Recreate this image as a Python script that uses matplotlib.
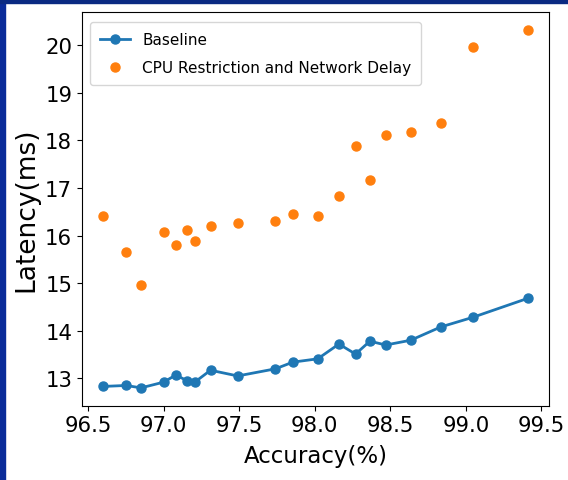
import matplotlib.pyplot as plt
from matplotlib.patches import Rectangle

# accuracy values (%) shared by both runs
accuracy = [96.6, 96.75, 96.85, 97.0, 97.08, 97.155, 97.21, 97.31, 97.49, 97.74,
            97.855, 98.02, 98.16, 98.27, 98.365, 98.47, 98.635, 98.835, 99.045, 99.41]

# latency (ms)
baseline = [12.83, 12.85, 12.80, 12.92, 13.07, 12.95, 12.93, 13.17, 13.05, 13.20,
            13.34, 13.41, 13.72, 13.51, 13.78, 13.70, 13.80, 14.08, 14.28, 14.68]
cpu_net = [16.42, 15.66, 14.97, 16.07, 15.79, 16.11, 15.88, 16.20, 16.26, 16.31,
           16.45, 16.42, 16.82, 17.89, 17.16, 18.11, 18.18, 18.37, 19.96, 20.31]

xticks = [96.5, 97.0, 97.5, 98.0, 98.5, 99.0, 99.5]


def plot_latency():
    fig = plt.figure(figsize=(5.68, 4.81), dpi=100)
    ax = fig.add_axes([0.1444, 0.1544, 0.8221, 0.8177])

    ax.plot(accuracy, baseline, '-o', color='#1f77b4', linewidth=2,
            markersize=6.5, label='Baseline')
    ax.plot(accuracy, cpu_net, 'o', color='#ff7f0e', markersize=6.5,
            label='CPU Restriction and Network Delay')

    ax.set_xlabel('Accuracy(%)', fontsize=16.5, labelpad=6)
    ax.set_ylabel('Latency(ms)', fontsize=19, labelpad=4)
    ax.tick_params(labelsize=15.3)
    ax.set_xticks(xticks)
    ax.legend(loc='upper left', fontsize=11, borderpad=0.65,
              labelspacing=0.85, bbox_to_anchor=(0.0, 0.995))

    # blue slide frame on the left and top edges
    fig.patches.append(Rectangle((0, 0), 0.009, 1, transform=fig.transFigure,
                                 color='#0a2c9a', zorder=0))
    fig.patches.append(Rectangle((0, 0.991), 1, 0.009, transform=fig.transFigure,
                                 color='#0a2a82', zorder=0))

    fig.savefig('out.png', dpi=100)


if __name__ == "__main__":
    plot_latency()
